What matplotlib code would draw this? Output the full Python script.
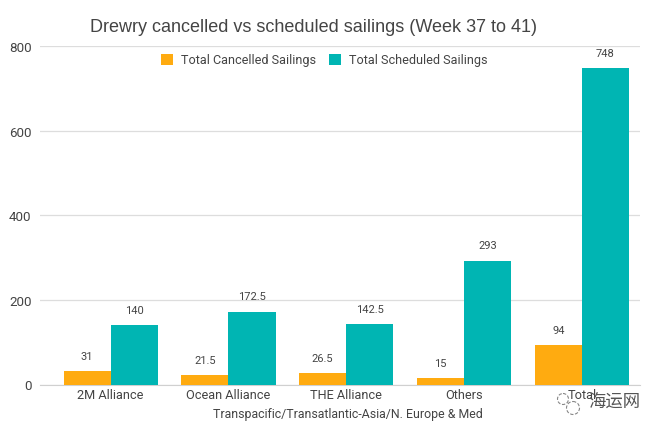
import matplotlib
matplotlib.use("Agg")
import matplotlib.pyplot as plt
from matplotlib.patches import Circle
from matplotlib.transforms import ScaledTranslation
import numpy as np

categories = ["2M Alliance", "Ocean Alliance", "THE Alliance", "Others", "Total"]
cancelled = [31, 21.5, 26.5, 15, 94]
scheduled = [140, 172.5, 142.5, 293, 748]
cancelled_labels = ["31", "21.5", "26.5", "15", "94"]
scheduled_labels = ["140", "172.5", "142.5", "293", "748"]
yticks = [0, 200, 400, 600, 800]

W, H = 658, 433
plt.rcParams['font.family'] = ['Roboto', 'DejaVu Sans']
fig = plt.figure(figsize=(W/100, H/100), dpi=100)
L, R, T, B = 40, 640, 46, 384.5
ax = fig.add_axes([L/W, 1-B/H, (R-L)/W, (B-T)/H])
x = np.arange(len(categories))
bw = 0.4
ORANGE, TEAL = "#FFAB10", "#00B5B3"
TXT = "#444444"
ax.bar(x-bw/2, cancelled, bw, color=ORANGE, label="Total Cancelled Sailings", zorder=3)
ax.bar(x+bw/2, scheduled, bw, color=TEAL, label="Total Scheduled Sailings", zorder=3)
ax.set_xlim(-0.6, 4.494)
ax.set_ylim(0, 800)
ax.set_yticks(yticks)
ax.set_xticks(x, categories)
ax.grid(axis='y', color="#DDDDDD", lw=0.9, zorder=0)
ax.set_axisbelow(True)
for s in ['top', 'right', 'left']:
    ax.spines[s].set_visible(False)
ax.spines['bottom'].set_color("#D0D0D0")
ax.tick_params(length=0, labelcolor=TXT, labelsize=9.2)
ax.tick_params(axis='y', pad=6, labelsize=9.6)
ax.tick_params(axis='x', pad=3.2)
shift = ScaledTranslation(0, -1/100, fig.dpi_scale_trans)
for t in ax.get_yticklabels():
    t.set_transform(t.get_transform() + shift)
for i in range(len(categories)):
    ax.annotate(cancelled_labels[i], (x[i]-bw/2, cancelled[i]), xytext=(0, 6.5), textcoords='offset points',
                ha='center', va='bottom', fontsize=8, color=TXT)
    ax.annotate(scheduled_labels[i], (x[i]+bw/2, scheduled[i]), xytext=(0, 6.5), textcoords='offset points',
                ha='center', va='bottom', fontsize=8, color=TXT)
fig.text(313/W, 1-27/H, "Drewry cancelled vs scheduled sailings (Week 37 to 41)", ha='center', va='center',
         fontsize=13, color="#444444", family=['Liberation Sans', 'DejaVu Sans'])
fig.text(347.5/W, 1-414.5/H, "Transpacific/Transatlantic-Asia/N. Europe & Med", ha='center', va='center',
         fontsize=8.9, color=TXT)
ax.legend(loc='upper center', bbox_to_anchor=(324/W, 1-54/H), bbox_transform=fig.transFigure, ncol=2, frameon=False,
          fontsize=9.05, labelcolor=TXT, handlelength=1.0, handleheight=1.0, handletextpad=0.6, columnspacing=1.0,
          borderpad=0, borderaxespad=0)

# watermark
fig.text(614/W, 1-403/H, "海运网", ha='center', va='center', fontsize=12.5, color="#555555", style='italic',
         family=['Noto Sans CJK SC', 'DejaVu Sans'], zorder=10)
ov = fig.add_axes([0, 0, 1, 1], facecolor='none')
ov.set_xlim(0, W); ov.set_ylim(H, 0); ov.axis('off')
for cx, cy, r in [(563, 399, 5.5), (573, 408, 6.5)]:
    ov.add_patch(Circle((cx, cy), r, fill=False, ec="#888888", lw=0.8, ls=(0, (3, 1.5))))
fig.savefig("out.png", dpi=100)
